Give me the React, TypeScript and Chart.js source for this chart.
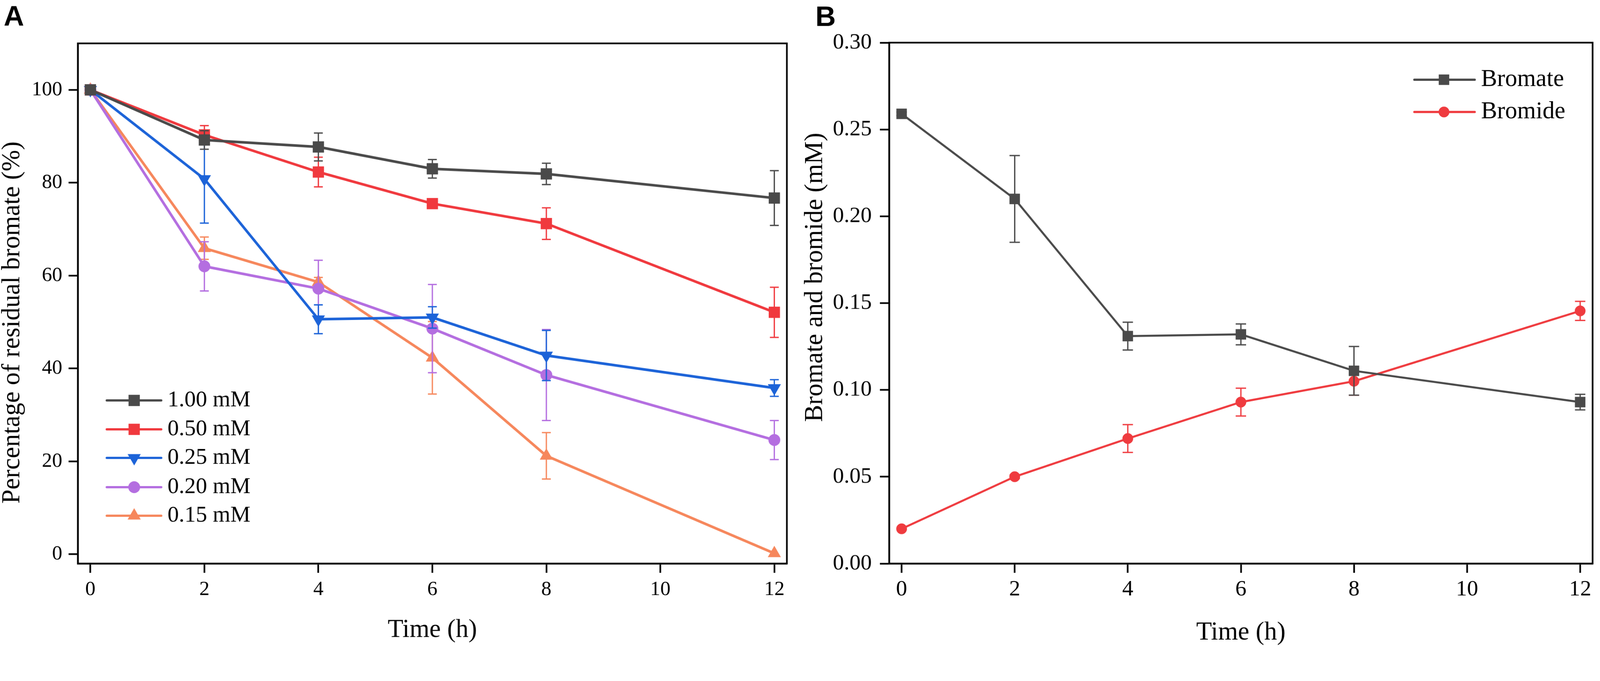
import React, { useEffect, useRef, useState } from 'react';
import { Chart, registerables } from 'chart.js';

Chart.register(...registerables);

const PAGE_W = 4317;
const PAGE_H = 1743;
const SERIF = "'Liberation Serif', 'Times New Roman', serif";
const SANS = "'Liberation Sans', Arial, sans-serif";

// ---------- data ----------
const timeH = [0, 2, 4, 6, 8, 12];
const xTickValues = [0, 2, 4, 6, 8, 10, 12];
const yTickValuesA = [0, 20, 40, 60, 80, 100];
const yTickValuesB = [0, 0.05, 0.1, 0.15, 0.2, 0.25, 0.3];

const seriesNamesA = ['1.00 mM', '0.50 mM', '0.25 mM', '0.20 mM', '0.15 mM'];
const residual100 = [100, 89.2, 87.7, 83.0, 81.9, 76.7];
const residual100Err = [0, 2.0, 3.0, 2.0, 2.3, 5.9];
const residual050 = [100, 90.3, 82.3, 75.5, 71.2, 52.1];
const residual050Err = [0, 2.0, 3.2, 0.8, 3.4, 5.4];
const residual025 = [100, 80.8, 50.6, 51.0, 42.8, 35.8];
const residual025Err = [0, 9.5, 3.1, 2.3, 5.4, 1.8];
const residual020 = [100, 62.0, 57.2, 48.6, 38.6, 24.6];
const residual020Err = [0, 5.3, 6.1, 9.5, 9.8, 4.2];
const residual015 = [100, 65.9, 58.6, 42.3, 21.2, 0.2];
const residual015Err = [0, 2.4, 1.0, 7.8, 5.0, 0];

const seriesNamesB = ['Bromate', 'Bromide'];
const bromateMM = [0.259, 0.21, 0.131, 0.132, 0.111, 0.093];
const bromateErr = [0.001, 0.025, 0.008, 0.006, 0.014, 0.0045];
const bromideMM = [0.02, 0.05, 0.072, 0.093, 0.105, 0.1455];
const bromideErr = [0, 0.001, 0.008, 0.008, 0.008, 0.0055];

// ---------- helpers ----------
const toXY = (ys: number[]) => timeH.map((t, i) => ({ x: t, y: ys[i] }));

function makeDataset(
  label: string, ys: number[], errs: number[], color: string,
  style: string, radius: number, rotation: number, lineWidth: number
) {
  return {
    label,
    data: toXY(ys),
    errors: errs,
    borderColor: color,
    backgroundColor: color,
    pointBackgroundColor: color,
    pointBorderColor: color,
    pointBorderWidth: 0,
    pointStyle: style,
    pointRadius: radius,
    pointHoverRadius: radius,
    pointRotation: rotation,
    borderWidth: lineWidth,
    tension: 0,
    fill: false,
    clip: false,
  };
}

function drawMarker(ctx: CanvasRenderingContext2D, style: string, x: number, y: number, r: number, rot: number) {
  ctx.beginPath();
  if (style === 'circle') {
    ctx.arc(x, y, r, 0, Math.PI * 2);
  } else if (style === 'rect') {
    const s = r * Math.SQRT1_2;
    ctx.rect(x - s, y - s, 2 * s, 2 * s);
  } else {
    let a = (rot * Math.PI) / 180;
    for (let k = 0; k < 3; k++) {
      const px = x + Math.sin(a) * r;
      const py = y - Math.cos(a) * r;
      if (k === 0) ctx.moveTo(px, py); else ctx.lineTo(px, py);
      a += (2 * Math.PI) / 3;
    }
    ctx.closePath();
  }
  ctx.fill();
}

const errorBarPlugin = {
  id: 'errorBars',
  beforeDatasetDraw(chart: any, args: any, opts: any) {
    const ds = chart.data.datasets[args.index];
    const errs: number[] = ds.errors;
    if (!errs) return;
    const xs = chart.scales.x;
    const ys = chart.scales.y;
    const ctx = chart.ctx as CanvasRenderingContext2D;
    ctx.save();
    ctx.strokeStyle = ds.borderColor;
    ctx.lineWidth = opts.lineWidth;
    ds.data.forEach((p: any, i: number) => {
      const e = errs[i];
      if (!e) return;
      const px = xs.getPixelForValue(p.x);
      const top = ys.getPixelForValue(p.y + e);
      const bot = ys.getPixelForValue(p.y - e);
      ctx.beginPath();
      ctx.moveTo(px, top); ctx.lineTo(px, bot);
      ctx.moveTo(px - opts.cap, top); ctx.lineTo(px + opts.cap, top);
      ctx.moveTo(px - opts.cap, bot); ctx.lineTo(px + opts.cap, bot);
      ctx.stroke();
    });
    ctx.restore();
  },
};

function makeDecor(d: any) {
  return {
    id: 'decor',
    afterDraw(chart: any) {
      const ctx = chart.ctx as CanvasRenderingContext2D;
      const a = chart.chartArea;
      ctx.save();
      ctx.strokeStyle = '#000';
      ctx.lineWidth = d.frameWidth;
      ctx.strokeRect(a.left, a.top, a.right - a.left, a.bottom - a.top);

      ctx.fillStyle = '#000';
      ctx.font = `bold ${d.letterSize}px ${SANS}`;
      ctx.textAlign = 'left';
      ctx.textBaseline = 'alphabetic';
      ctx.fillText(d.letter, d.letterX, d.letterY);

      ctx.font = `${d.titleSize}px ${SERIF}`;
      ctx.textAlign = 'center';
      ctx.fillText(d.xTitle, (a.left + a.right) / 2, d.xTitleY);
      ctx.save();
      ctx.translate(d.yTitleX, d.yTitleY);
      ctx.rotate(-Math.PI / 2);
      ctx.fillText(d.yTitle, 0, 0);
      ctx.restore();

      const L = d.legend;
      chart.data.datasets.forEach((ds: any, i: number) => {
        const y = L.rowY[i];
        ctx.strokeStyle = ds.borderColor;
        ctx.lineWidth = L.lineWidth;
        ctx.lineCap = 'round';
        ctx.beginPath();
        ctx.moveTo(L.lineX0, y);
        ctx.lineTo(L.lineX1, y);
        ctx.stroke();
        ctx.fillStyle = ds.backgroundColor;
        drawMarker(ctx, ds.pointStyle, L.markerX, y, ds.pointRadius, ds.pointRotation || 0);
        ctx.fillStyle = '#000';
        ctx.font = `${L.size}px ${SERIF}`;
        ctx.textAlign = 'left';
        ctx.textBaseline = 'middle';
        ctx.fillText(ds.label, L.textX, y);
      });
      ctx.restore();
    },
  };
}

function makeScales(p: any) {
  return {
    x: {
      type: 'linear',
      min: p.xMin,
      max: p.xMax,
      afterBuildTicks: (s: any) => { s.ticks = xTickValues.map((v) => ({ value: v })); },
      afterFit: (s: any) => { s.height = p.xHeight; s.paddingLeft = 0; s.paddingRight = 0; },
      ticks: {
        font: { family: SERIF, size: p.tickSize },
        color: '#000',
        padding: p.xPad,
        maxRotation: 0,
        autoSkip: false,
        callback: (v: any) => String(v),
      },
      grid: { drawOnChartArea: false, drawTicks: true, tickLength: 25, tickWidth: p.axisWidth, tickColor: '#000' },
      border: { display: true, color: '#000', width: p.axisWidth },
    },
    y: {
      type: 'linear',
      min: p.yMin,
      max: p.yMax,
      afterBuildTicks: (s: any) => { s.ticks = p.yTicks.map((v: number) => ({ value: v })); },
      afterFit: (s: any) => { s.width = p.yWidth; s.paddingTop = 0; s.paddingBottom = 0; },
      ticks: {
        font: { family: SERIF, size: p.tickSize },
        color: '#000',
        padding: p.yPad,
        autoSkip: false,
        callback: p.yFmt,
      },
      grid: { drawOnChartArea: false, drawTicks: true, tickLength: 25, tickWidth: p.axisWidth, tickColor: '#000' },
      border: { display: true, color: '#000', width: p.axisWidth },
    },
  };
}

function buildPanelA(): any {
  const lw = 7;
  return {
    type: 'line',
    data: {
      datasets: [
        makeDataset(seriesNamesA[0], residual100, residual100Err, '#4a4a4a', 'rect', 21.5, 0, lw),
        makeDataset(seriesNamesA[1], residual050, residual050Err, '#f0393e', 'rect', 21.5, 0, lw),
        makeDataset(seriesNamesA[2], residual025, residual025Err, '#1c63d8', 'triangle', 20.5, 180, lw),
        makeDataset(seriesNamesA[3], residual020, residual020Err, '#b46ee0', 'circle', 16, 0, lw),
        makeDataset(seriesNamesA[4], residual015, residual015Err, '#f6875c', 'triangle', 20.5, 0, lw),
      ],
    },
    options: {
      responsive: false,
      devicePixelRatio: 1,
      animation: false,
      events: [],
      layout: { padding: { top: 117, right: 27, left: 0, bottom: 0 } },
      plugins: {
        legend: { display: false },
        tooltip: { enabled: false },
        errorBars: { lineWidth: 3.5, cap: 12 },
      },
      scales: makeScales({
        xMin: -0.22, xMax: 12.22, yMin: -2, yMax: 110, yTicks: yTickValuesA,
        yFmt: (v: any) => String(v), tickSize: 55, xPad: 13, yPad: 17,
        xHeight: 223, yWidth: 210, axisWidth: 4.5,
      }),
    },
    plugins: [
      errorBarPlugin,
      makeDecor({
        frameWidth: 4.5, letter: 'A', letterX: 10, letterY: 69, letterSize: 76,
        titleSize: 69, xTitle: 'Time (h)', xTitleY: 1718,
        yTitle: 'Percentage of residual bromate (%)', yTitleX: 52, yTitleY: 870,
        legend: { lineX0: 288, lineX1: 435, markerX: 362, textX: 452, rowY: [1080, 1158, 1235, 1314, 1391], size: 61, lineWidth: 6 },
      }),
    ],
  };
}

function buildPanelB(): any {
  const lw = 5.5;
  return {
    type: 'line',
    data: {
      datasets: [
        makeDataset(seriesNamesB[0], bromateMM, bromateErr, '#4a4a4a', 'rect', 20, 0, lw),
        makeDataset(seriesNamesB[1], bromideMM, bromideErr, '#ef3b3f', 'circle', 14.5, 0, lw),
      ],
    },
    options: {
      responsive: false,
      devicePixelRatio: 1,
      animation: false,
      events: [],
      layout: { padding: { top: 115, right: 7, left: 0, bottom: 0 } },
      plugins: {
        legend: { display: false },
        tooltip: { enabled: false },
        errorBars: { lineWidth: 3.5, cap: 14 },
      },
      scales: makeScales({
        xMin: -0.22, xMax: 12.22, yMin: 0, yMax: 0.3, yTicks: yTickValuesB,
        yFmt: (v: any) => Number(v).toFixed(2), tickSize: 60, xPad: 9, yPad: 22,
        xHeight: 223, yWidth: 249, axisWidth: 4.5,
      }),
    },
    plugins: [
      errorBarPlugin,
      makeDecor({
        frameWidth: 4.5, letter: 'B', letterX: 50, letterY: 70, letterSize: 76,
        titleSize: 69, xTitle: 'Time (h)', xTitleY: 1725,
        yTitle: 'Bromate and bromide (mM)', yTitleX: 68, yTitleY: 748,
        legend: { lineX0: 1666, lineX1: 1829, markerX: 1746, textX: 1846, rowY: [215, 302], size: 65, lineWidth: 6 },
      }),
    ],
  };
}

function ChartCanvas({ build, left, width, scale }: { build: () => any; left: number; width: number; scale: number }) {
  const ref = useRef<HTMLCanvasElement>(null);
  useEffect(() => {
    if (!ref.current) return;
    const chart = new Chart(ref.current, build());
    return () => chart.destroy();
  }, [build]);
  return (
    <canvas
      ref={ref}
      width={width}
      height={PAGE_H}
      style={{
        position: 'absolute',
        left: left * scale,
        top: 0,
        width: width * scale,
        height: PAGE_H * scale,
        display: 'block',
      }}
    />
  );
}

function viewportScale() {
  if (typeof window === 'undefined') return 1;
  const w = window.innerWidth || PAGE_W;
  const h = window.innerHeight || PAGE_H;
  return Math.min(w / PAGE_W, h / PAGE_H);
}

export default function App() {
  const [scale, setScale] = useState(viewportScale());
  useEffect(() => {
    const onResize = () => setScale(viewportScale());
    window.addEventListener('resize', onResize);
    return () => window.removeEventListener('resize', onResize);
  }, []);
  return (
    <div
      style={{
        position: 'fixed', left: 0, top: 0, width: PAGE_W * scale, height: PAGE_H * scale,
        background: '#ffffff', overflow: 'hidden',
      }}
    >
      <ChartCanvas build={buildPanelA} left={0} width={2150} scale={scale} />
      <ChartCanvas build={buildPanelB} left={2150} width={2167} scale={scale} />
    </div>
  );
}
